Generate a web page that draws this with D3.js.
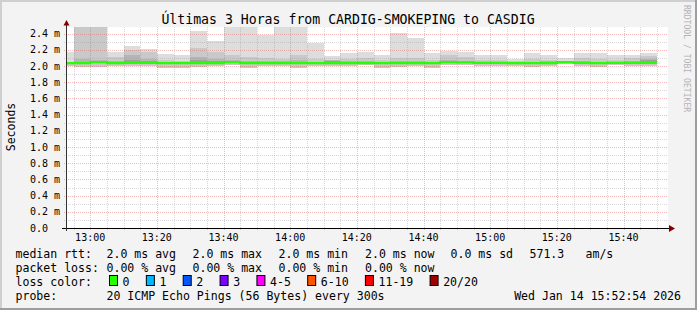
<!DOCTYPE html>
<html><head><meta charset="utf-8">
<script src="https://cdn.jsdelivr.net/npm/d3@7"></script>
<style>html,body{margin:0;padding:0;background:#f3f3f3;}svg{display:block;}text{font-family:"DejaVu Sans Mono",monospace;fill:#000;}</style>
</head><body><svg id="c" width="697" height="310"></svg>
<script>
// ---------------- data ----------------
const binStart = ["12:50","12:55","13:00","13:05","13:10","13:15","13:20","13:25","13:30","13:35","13:40","13:45",
  "13:50","13:55","14:00","14:05","14:10","14:15","14:20","14:25","14:30","14:35","14:40","14:45",
  "14:50","14:55","15:00","15:05","15:10","15:15","15:20","15:25","15:30","15:35","15:40","15:45"];
const smokeMax = [2.17,2.48,2.48,2.17,2.25,2.21,2.15,2.14,2.43,2.31,2.48,2.48,
  2.38,2.48,2.48,2.28,2.12,2.16,2.17,2.13,2.41,2.34,2.16,2.19,
  2.17,2.14,2.13,2.09,2.16,2.14,2.10,2.16,2.16,2.14,2.14,2.16];
const smokeUp2 = [2.05,2.48,2.48,2.11,2.20,2.17,2.07,2.06,2.22,2.17,2.13,2.11,
  2.10,2.09,2.13,2.09,2.08,2.09,2.10,2.08,2.10,2.10,2.08,2.13,
  2.11,2.08,2.08,2.06,2.09,2.08,2.06,2.10,2.09,2.08,2.10,2.12];
const smokeUp3 = [2.04,2.09,2.08,2.06,2.14,2.09,2.05,2.05,2.11,2.09,2.07,2.06,
  2.06,2.06,2.07,2.05,2.07,2.06,2.06,2.05,2.06,2.06,2.05,2.07,
  2.06,2.05,2.05,2.05,2.05,2.06,2.05,2.06,2.05,2.05,2.06,2.09];
const smokeUp4 = [2.04,2.05,2.06,2.05,2.07,2.06,2.04,2.04,2.07,2.06,2.05,2.05,
  2.05,2.05,2.05,2.04,2.065,2.05,2.05,2.04,2.05,2.05,2.04,2.055,
  2.055,2.045,2.045,2.04,2.045,2.05,2.05,2.05,2.045,2.045,2.05,2.07];
const smokeMin = [2.00,1.99,1.99,2.00,2.00,2.00,1.975,1.975,1.99,2.00,2.01,1.98,
  2.00,2.00,1.97,2.00,2.00,2.00,2.01,1.98,1.99,2.00,1.98,2.01,
  2.01,2.00,2.00,2.00,1.99,2.00,2.02,2.00,1.99,2.01,2.00,2.00];
const medianRtt = [2.035,2.035,2.048,2.035,2.038,2.038,2.035,2.035,2.035,2.035,2.048,2.035,
  2.035,2.035,2.035,2.035,2.035,2.035,2.035,2.035,2.035,2.035,2.035,2.048,
  2.045,2.038,2.038,2.035,2.035,2.035,2.048,2.038,2.035,2.038,2.038,2.038];

const yTicks = [0,0.2,0.4,0.6,0.8,1.0,1.2,1.4,1.6,1.8,2.0,2.2,2.4];
const yTickLabels = ["0.0","0.2 m","0.4 m","0.6 m","0.8 m","1.0 m","1.2 m","1.4 m","1.6 m","1.8 m","2.0 m","2.2 m","2.4 m"];
const xTickLabels = ["13:00","13:20","13:40","14:00","14:20","14:40","15:00","15:20","15:40"];

const titleText = "Últimas 3 Horas from CARDIG-SMOKEPING to CASDIG";
const rttStats = ["2.0 ms avg","2.0 ms max","2.0 ms min","2.0 ms now","0.0 ms sd"];
const lossStats = ["0.00 % avg","0.00 % max","0.00 % min","0.00 % now"];
const lossLabels = ["0","1","2","3","4-5","6-10","11-19","20/20"];
const lossColors = ["#26ff00","#00b8ff","#0059ff","#7e00ff","#ff00ff","#ff5500","#ff0000","#a00000"];

// ---------------- layout ----------------
const W = 697, H = 310;
const svg = d3.select("#c");
const pT = d3.timeParse("%H:%M:%S"), pM = d3.timeParse("%H:%M");
const t0 = pT("12:52:54"), t1 = pT("15:52:54");
const x = d3.scaleTime().domain([t0, t1]).range([66.5, 666.5]);
const y = d3.scaleLinear().domain([0, 2]).range([228, 66]);
const plotL = 67, plotR = 668, plotT = 27, plotB = 228;

svg.append("rect").attr("width", W).attr("height", H).attr("fill", "#f3f3f3");
// 3D frame
svg.append("rect").attr("x",0).attr("y",0).attr("width",W).attr("height",2).attr("fill","#cfcfcf");
svg.append("rect").attr("x",0).attr("y",0).attr("width",2).attr("height",H).attr("fill","#cfcfcf");
svg.append("rect").attr("x",0).attr("y",H-2).attr("width",W).attr("height",2).attr("fill","#9e9e9e");
svg.append("rect").attr("x",W-2).attr("y",0).attr("width",2).attr("height",H).attr("fill","#9e9e9e");

svg.append("rect").attr("x", plotL).attr("y", plotT).attr("width", plotR - plotL).attr("height", plotB - plotT).attr("fill", "#fff");

svg.append("clipPath").attr("id","clip").append("rect")
  .attr("x", plotL).attr("y", plotT).attr("width", plotR - plotL).attr("height", plotB - plotT);

const bins = binStart.map((s, i) => ({
  t: pM(s), max: smokeMax[i], up2: smokeUp2[i], up3: smokeUp3[i], up4: smokeUp4[i], min: smokeMin[i], med: medianRtt[i]
}));
const gData = svg.append("g").attr("clip-path", "url(#clip)");
function band(lo, hi, color) {
  gData.append("g").selectAll("rect").data(bins).join("rect")
    .attr("shape-rendering","crispEdges")
    .attr("x", d => x(d.t))
    .attr("width", d => x(d3.timeMinute.offset(d.t, 5)) - x(d.t))
    .attr("y", d => y(hi(d)))
    .attr("height", d => Math.max(0, y(lo(d)) - y(hi(d))))
    .attr("fill", color);
}
band(d => d.min, d => d.max, "#dddddd");
band(d => d.min, d => d.up2, "#c9c9c9");
band(d => d.med, d => d.up3, "#b5b5b5");
band(d => d.med, d => d.up4, "#a0a0a0");

// grid
const gGrid = svg.append("g").attr("shape-rendering","crispEdges");
const minorC = "rgba(150,150,150,0.38)", majorC = "rgba(235,90,90,0.42)";
for (let k = 1; k <= 24; k++) {
  const v = k / 10;
  const major = k % 2 === 0;
  gGrid.append("line").attr("x1", 64).attr("x2", plotR).attr("y1", Math.round(y(v)) + 0.5).attr("y2", Math.round(y(v)) + 0.5)
    .attr("stroke", major ? majorC : minorC).attr("stroke-dasharray", "1,1");
}
const minorTimes = d3.timeMinute.every(5).range(t0, t1);
minorTimes.forEach(t => {
  const major = t.getMinutes() % 20 === 0;
  const xx = Math.round(x(t)) + 0.5;
  gGrid.append("line").attr("x1", xx).attr("x2", xx).attr("y1", plotT).attr("y2", plotB + 3)
    .attr("stroke", major ? majorC : minorC).attr("stroke-dasharray", "1,1");
});

// median line
const line = d3.line().curve(d3.curveStepAfter).x(d => x(d.t)).y(d => y(d.med));
const medPts = bins.concat([{ t: d3.timeMinute.offset(bins[bins.length-1].t, 5), med: bins[bins.length-1].med }]);
gData.append("path").datum(medPts).attr("d", line).attr("fill", "none").attr("stroke", "#26ff00").attr("stroke-width", 2.2);

// axes
svg.append("line").attr("x1", 62).attr("x2", 670).attr("y1", 228.5).attr("y2", 228.5).attr("stroke", "#000").attr("stroke-width",1);
svg.append("line").attr("x1", 66.5).attr("x2", 66.5).attr("y1", 231).attr("y2", 24).attr("stroke", "#333").attr("stroke-width",1);
svg.append("path").attr("d", "M669,225L675,228.5L669,232Z").attr("fill", "#7f0000");
svg.append("path").attr("d", "M63.5,25.5L66.5,20L69.5,25.5Z").attr("fill", "#7f0000");

// tick labels
svg.append("g").selectAll("text").data(yTicks).join("text")
  .attr("x", 30).attr("y", d => y(d) + 3.5).attr("font-size", "10px").text((d, i) => yTickLabels[i]);
svg.append("g").selectAll("text").data(xTickLabels).join("text")
  .attr("x", d => x(pM(d))).attr("y", 241).attr("text-anchor", "middle").attr("font-size", "10px").text(d => d);

// title & side labels
svg.append("text").attr("x", 348).attr("y", 24).attr("text-anchor", "middle").attr("font-size", "13.2px").text(titleText);
svg.append("text").attr("transform", "translate(14.5,127) rotate(-90)").attr("text-anchor", "middle").attr("font-size", "11.5px").text("Seconds");
svg.append("text").attr("transform", "translate(684,5) rotate(90)").attr("font-size", "8.1px").style("fill", "#b4b4b4").text("RRDTOOL / TOBI OETIKER");

// legend
const LF = "11.55px", CW = 6.955;
const cols = [106.5, 192.5, 278.5, 365, 450.5];
const lg = svg.append("g").attr("font-size", LF);
lg.append("text").attr("x", 15.5).attr("y", 258).text("median rtt:");
rttStats.forEach((s, i) => lg.append("text").attr("x", cols[i]).attr("y", 258).text(s));
lg.append("text").attr("x", 529.5).attr("y", 258).text("571.3");
lg.append("text").attr("x", 585.5).attr("y", 258).text("am/s");
lg.append("text").attr("x", 15.5).attr("y", 272).text("packet loss:");
lossStats.forEach((s, i) => lg.append("text").attr("x", cols[i]).attr("y", 272).text(s));
lg.append("text").attr("x", 15.5).attr("y", 286).text("loss color:");
let bx = 109;
lossLabels.forEach((lab, i) => {
  lg.append("rect").attr("x", bx + 0.5).attr("y", 275.5).attr("width", 8).attr("height", 10)
    .attr("fill", lossColors[i]).attr("stroke", "#000").attr("stroke-width", 1);
  const lx = bx + 13.6;
  lg.append("text").attr("x", lx).attr("y", 286).text(lab);
  bx = lx + lab.length * CW + 16.3;
});
lg.append("text").attr("x", 15.5).attr("y", 300).text("probe:");
lg.append("text").attr("x", 106.5).attr("y", 300).text("20 ICMP Echo Pings (56 Bytes) every 300s");
lg.append("text").attr("x", 681).attr("y", 300).attr("text-anchor", "end").text("Wed Jan 14 15:52:54 2026");
</script></body></html>
